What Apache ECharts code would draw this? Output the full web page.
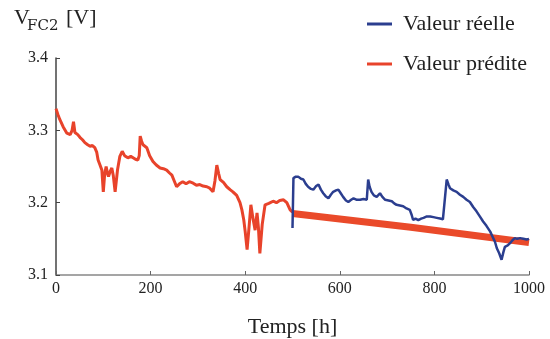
<!DOCTYPE html>
<html>
<head>
<meta charset="utf-8">
<script src="https://cdn.jsdelivr.net/npm/echarts@6/dist/echarts.min.js"></script>
<style>html,body{margin:0;padding:0;background:#fff}#c{width:550px;height:339px}</style>
</head>
<body>
<div id="c"></div>
<script>
// Tick labels
const xTicks = [0, 200, 400, 600, 800, 1000];
const yTicks = [3.1, 3.2, 3.3, 3.4];

// Red (0-500 h) trace: time [h], voltage [V]
const redT = [0,4,8,15,23,30,34,37,40,46,51,56,61,67,72,77,82,86,89,93,97,100,103,106,109,111,115,118,121,125,130,135,140,145,152,158,163,168,173,176,178,181,184,188,192,198,205,212,220,227,234,240,245,250,255,261,268,275,282,290,297,304,311,319,325,332,336,340,344,347,354,361,368,374,382,389,393,397,400,404,408,412,416,421,425,428,431,436,442,450,459,466,473,481,488,495,500];
const redV = [3.330,3.322,3.315,3.305,3.296,3.294,3.300,3.312,3.297,3.294,3.290,3.287,3.283,3.280,3.278,3.279,3.276,3.270,3.259,3.252,3.245,3.215,3.240,3.250,3.240,3.236,3.244,3.248,3.238,3.215,3.245,3.264,3.271,3.265,3.262,3.264,3.262,3.260,3.259,3.265,3.292,3.285,3.280,3.278,3.276,3.265,3.257,3.252,3.248,3.247,3.245,3.241,3.238,3.230,3.222,3.226,3.229,3.226,3.229,3.227,3.224,3.225,3.223,3.222,3.220,3.215,3.230,3.252,3.240,3.232,3.228,3.222,3.218,3.215,3.210,3.200,3.190,3.176,3.160,3.135,3.165,3.197,3.180,3.162,3.186,3.165,3.130,3.170,3.197,3.199,3.202,3.200,3.203,3.204,3.200,3.190,3.187];

// Blue: Valeur réelle (500-1000 h)
const blueT = [500,502,507,512,518,523,528,533,539,544,550,555,560,565,570,576,581,586,592,597,602,607,613,618,624,629,636,643,650,657,660,663,667,672,678,685,690,696,703,710,715,720,727,734,741,748,752,755,760,766,772,777,784,791,798,805,812,818,822,826,830,833,840,847,854,861,868,875,882,889,896,903,910,918,923,928,932,937,942,946,949,955,960,965,970,975,981,988,995,1000];
const blueV = [3.165,3.234,3.236,3.236,3.233,3.232,3.226,3.222,3.219,3.218,3.223,3.225,3.218,3.213,3.209,3.206,3.211,3.215,3.217,3.218,3.213,3.208,3.203,3.201,3.204,3.206,3.204,3.204,3.205,3.204,3.232,3.222,3.215,3.210,3.208,3.213,3.208,3.204,3.203,3.202,3.199,3.197,3.196,3.195,3.192,3.190,3.183,3.176,3.178,3.176,3.178,3.179,3.181,3.181,3.180,3.179,3.178,3.177,3.176,3.232,3.225,3.220,3.217,3.215,3.211,3.208,3.204,3.201,3.194,3.188,3.181,3.174,3.168,3.160,3.153,3.146,3.137,3.130,3.121,3.132,3.139,3.141,3.144,3.148,3.151,3.150,3.151,3.150,3.149,3.150];

// Red thick: Valeur prédite (500-1000 h)
const predT = [500, 750, 1000];
const predV = [3.185, 3.166, 3.145];

const zip = (a, b) => a.map((v, i) => [v, b[i]]);
const FONT = '"Liberation Serif", "DejaVu Serif", serif';

const chart = echarts.init(document.getElementById('c'), null, {renderer: 'canvas'});
chart.setOption({
  animation: false,
  backgroundColor: '#fff',
  grid: {left: 56, right: 21, top: 58, bottom: 64, containLabel: false, outerBoundsMode: 'none'},
  graphic: [
    {type: 'text', left: 14, top: 7, style: {text: 'V', font: '22px ' + FONT, fill: '#222'}},
    {type: 'text', left: 27, top: 19, style: {text: 'FC2', font: '15px "DejaVu Serif", serif', fill: '#222'}},
    {type: 'text', left: 66, top: 7, style: {text: '[V]', font: '22px ' + FONT, fill: '#222'}}
  ],
  legend: {
    data: ['Valeur réelle', 'Valeur prédite'],
    orient: 'vertical',
    left: 362, top: 8,
    icon: 'rect',
    itemWidth: 25, itemHeight: 3,
    itemGap: 18,
    textStyle: {fontFamily: FONT, fontSize: 22, lineHeight: 22, color: '#222', padding: [0, 0, 0, 6]}
  },
  xAxis: {
    type: 'value', min: 0, max: 1000, interval: 200,
    name: 'Temps [h]', nameLocation: 'middle', nameGap: 41,
    nameTextStyle: {fontFamily: FONT, fontSize: 22, color: '#222'},
    axisLine: {show: true, lineStyle: {color: '#888', width: 1.5}},
    axisTick: {show: true, inside: true, length: 4, lineStyle: {color: '#666'}},
    axisLabel: {fontFamily: FONT, fontSize: 16, color: '#222', margin: 6,
      formatter: v => xTicks.includes(v) ? String(v) : ''},
    splitLine: {show: false}
  },
  yAxis: {
    type: 'value', min: 3.1, max: 3.4, interval: 0.1,
    axisLine: {show: true, lineStyle: {color: '#444', width: 1.5}},
    axisTick: {show: true, inside: true, length: 4, lineStyle: {color: '#444'}},
    axisLabel: {fontFamily: FONT, fontSize: 16, color: '#222', margin: 8,
      formatter: v => {
        const t = yTicks.find(y => Math.abs(y - v) < 1e-6);
        return t !== undefined ? t.toFixed(1) : '';
      }},
    splitLine: {show: false}
  },
  series: [
    {name: 'Valeur prédite', type: 'line', data: zip(redT, redV), showSymbol: false,
      lineStyle: {color: '#e8432b', width: 3}, itemStyle: {color: '#e8432b'}, z: 2},
    {name: 'Valeur prédite', type: 'line', data: zip(predT, predV), showSymbol: false,
      lineStyle: {color: '#ea4a2a', width: 7}, itemStyle: {color: '#ea4a2a'}, z: 3},
    {name: 'Valeur réelle', type: 'line', data: zip(blueT, blueV), showSymbol: false,
      lineStyle: {color: '#2b3e8f', width: 2.5}, itemStyle: {color: '#2b3e8f'}, z: 4}
  ]
});
</script>
</body>
</html>
